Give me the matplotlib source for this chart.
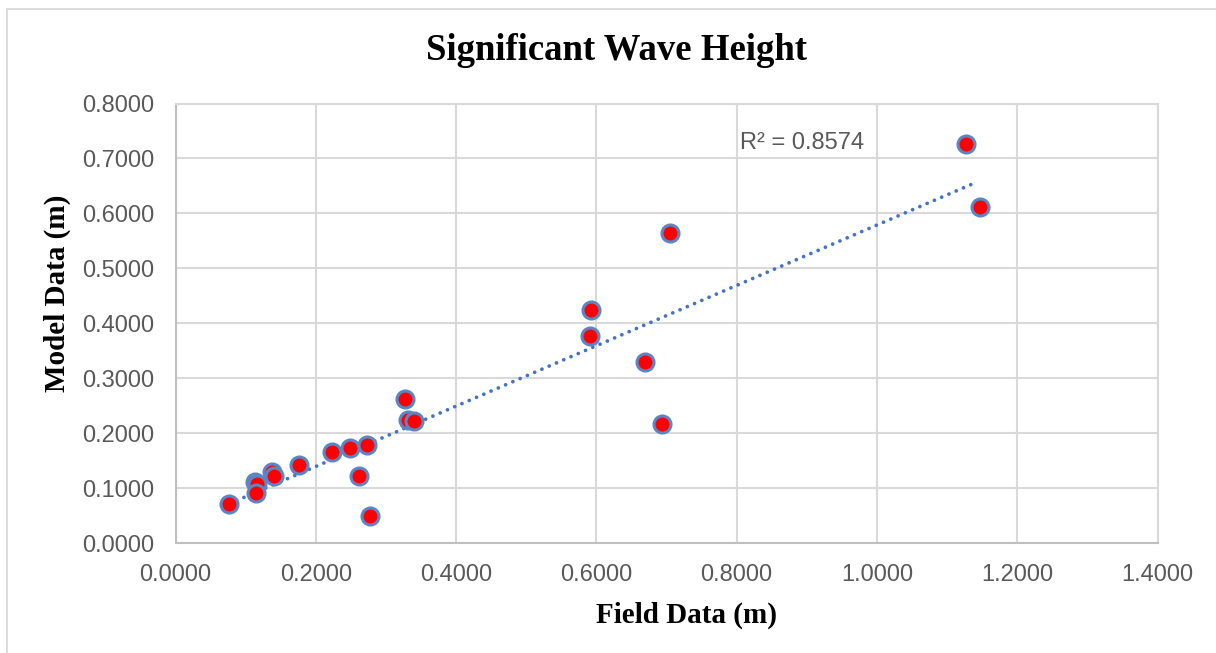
import numpy as np
import matplotlib.pyplot as plt
from matplotlib.patches import Rectangle

# values
field = [0.0768, 0.1138, 0.1167, 0.1148, 0.1380, 0.1410, 0.1766, 0.2228,
         0.2494, 0.2727, 0.2613, 0.2775, 0.3274, 0.3321, 0.3402, 0.7045,
         0.5927, 0.5908, 0.6688, 0.6930, 1.1272, 1.1472]
model = [0.0710, 0.1116, 0.1070, 0.0916, 0.1287, 0.1220, 0.1426, 0.1656,
         0.1729, 0.1790, 0.1225, 0.0486, 0.2615, 0.2233, 0.2220, 0.5643,
         0.4247, 0.3774, 0.3289, 0.2166, 0.7257, 0.6110]
xticks = [0.0, 0.2, 0.4, 0.6, 0.8, 1.0, 1.2, 1.4]
yticks = [0.0, 0.1, 0.2, 0.3, 0.4, 0.5, 0.6, 0.7, 0.8]
r2_text = 'R² = 0.8574'

W, H = 1216, 653
fig = plt.figure(figsize=(W/100, H/100), dpi=100)
ax = fig.add_axes([175.5/W, 1-543/H, (1157.5-175.5)/W, (543-103.5)/H])

# outer chart border (only top and left visible in the crop)
fig.patches.append(Rectangle((7/W, -0.1), 1.2, 1-9/H+0.1, transform=fig.transFigure,
                             fill=False, edgecolor='#D9D9D9', linewidth=1.3))

x = np.array(field)
y = np.array(model)
m, b = np.polyfit(x, y, 1)
xl = np.array([x.min(), x.max() - 0.01])
ax.plot(xl, m*xl+b, linestyle=(0, (0.01, 2.1)), color='#4472C4', linewidth=2.7,
        dash_capstyle='round', solid_capstyle='round', zorder=2)
ax.scatter(x, y, s=150, facecolor='#FF0000', edgecolor='#5A86C6', linewidth=2.2, zorder=3)

ax.set_xlim(0, 1.4)
ax.set_ylim(0, 0.8)
ax.set_xticks(xticks)
ax.set_yticks(yticks)
ax.set_xticklabels(['%.4f' % v for v in xticks])
ax.set_yticklabels(['%.4f' % v for v in yticks])
ax.tick_params(length=0, labelsize=17, labelcolor='#595959', labelfontfamily='Liberation Sans')
ax.tick_params(axis='x', pad=15)
ax.tick_params(axis='y', pad=15.5)
ax.grid(True, color='#D9D9D9', linewidth=1.5)
ax.set_axisbelow(True)
for s in ['top', 'right']:
    ax.spines[s].set_color('#D9D9D9')
    ax.spines[s].set_linewidth(1.5)
for s in ['left', 'bottom']:
    ax.spines[s].set_color('#BFBFBF')
    ax.spines[s].set_linewidth(1.5)

ax.text(0.805, 0.728, r2_text, fontsize=17, color='#595959', family='Liberation Sans',
        va='center', ha='left')

fig.text(616/W, 1-50/H, 'Significant Wave Height', fontsize=26.5, fontweight='bold',
         family='Liberation Serif', ha='center', va='center')
fig.text(687/W, 1-615/H, 'Field Data (m)', fontsize=21, fontweight='bold',
         family='Liberation Serif', ha='center', va='center')
fig.text(57/W, 1-293/H, 'Model Data (m)', fontsize=21, fontweight='bold',
         family='Liberation Serif', ha='center', va='center', rotation=90)

fig.savefig('out.png', dpi=100)
